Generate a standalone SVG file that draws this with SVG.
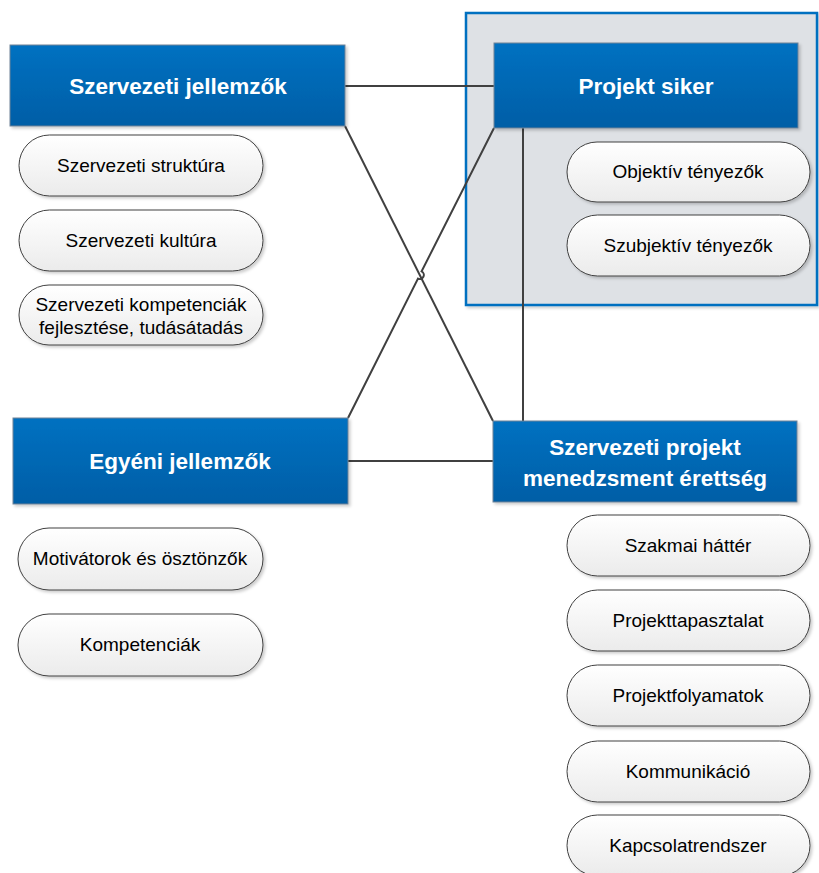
<svg xmlns="http://www.w3.org/2000/svg" width="819" height="873" viewBox="0 0 819 873">
  <defs>
    <linearGradient id="gBox" x1="0" y1="0" x2="0" y2="1">
      <stop offset="0" stop-color="#0071C1"/>
      <stop offset="1" stop-color="#005EA6"/>
    </linearGradient>
    <linearGradient id="gPill" x1="0" y1="0" x2="0" y2="1">
      <stop offset="0" stop-color="#FFFFFF"/>
      <stop offset="1" stop-color="#EBEBEB"/>
    </linearGradient>
    <filter id="sh" x="-10%" y="-10%" width="120%" height="130%">
      <feDropShadow dx="2" dy="2" stdDeviation="1.5" flood-color="#000" flood-opacity="0.2"/>
    </filter>
  </defs>
  <style>
    .box { fill: url(#gBox); stroke: #6F8397; stroke-width: 1; filter: url(#sh); }
    .pill { fill: url(#gPill); stroke: #404040; stroke-width: 1; filter: url(#sh); }
    .title { font-family: "Liberation Sans", Arial, sans-serif; font-weight: bold; font-size: 22.5px; fill: #FFFFFF; text-anchor: middle; }
    .lbl { font-family: "Liberation Sans", Arial, sans-serif; font-size: 19px; fill: #000000; text-anchor: middle; }
    .con { fill: none; stroke: #404040; stroke-width: 2; }
  </style>

  <rect width="819" height="873" fill="#FFFFFF"/>

  <!-- Projekt siker container -->
  <g id="container">
    <rect x="466" y="13" width="351" height="292" fill="#DEE1E5" stroke="#0070C0" stroke-width="2.5" filter="url(#sh)"/>
  </g>

  <g id="connectors">
    <line class="con" x1="345" y1="86" x2="494" y2="86"/>
    <line class="con" x1="345" y1="126" x2="493" y2="421"/>
    <path class="con" d="M348,418 L418.0,278.6 A4,4 0 0 0 421.6,271.4 L494,128"/>
    <line class="con" x1="348" y1="461" x2="493" y2="461"/>
    <line class="con" x1="523" y1="128" x2="523" y2="421"/>
  </g>

  <g id="szervezeti-jellemzok">
    <rect class="box" x="10" y="45" width="335" height="81"/>
    <text class="title" x="178" y="94">Szervezeti jellemzők</text>
  </g>
  <g id="szervezeti-struktura">
    <rect class="pill" x="19" y="135" width="244" height="61" rx="30.5"/>
    <text class="lbl" x="141" y="172">Szervezeti struktúra</text>
  </g>
  <g id="szervezeti-kultura">
    <rect class="pill" x="19" y="210" width="244" height="61" rx="30.5"/>
    <text class="lbl" x="141" y="247">Szervezeti kultúra</text>
  </g>
  <g id="szervezeti-kompetenciak">
    <rect class="pill" x="19" y="285" width="244" height="60" rx="30"/>
    <text class="lbl" x="141" y="311">Szervezeti kompetenciák</text>
    <text class="lbl" x="141" y="334">fejlesztése, tudásátadás</text>
  </g>

  <g id="projekt-siker">
    <rect class="box" x="494" y="43" width="304" height="85"/>
    <text class="title" x="646" y="94">Projekt siker</text>
  </g>
  <g id="objektiv">
    <rect class="pill" x="567" y="142" width="243" height="60" rx="30"/>
    <text class="lbl" x="688" y="178">Objektív tényezők</text>
  </g>
  <g id="szubjektiv">
    <rect class="pill" x="567" y="215" width="243" height="61" rx="30.5"/>
    <text class="lbl" x="688" y="252">Szubjektív tényezők</text>
  </g>

  <g id="egyeni-jellemzok">
    <rect class="box" x="13" y="418" width="335" height="86"/>
    <text class="title" x="180" y="469">Egyéni jellemzők</text>
  </g>
  <g id="motivatorok">
    <rect class="pill" x="18" y="528" width="245" height="62" rx="31"/>
    <text class="lbl" x="140" y="565">Motivátorok és ösztönzők</text>
  </g>
  <g id="kompetenciak">
    <rect class="pill" x="18" y="614" width="245" height="62" rx="31"/>
    <text class="lbl" x="140" y="651">Kompetenciák</text>
  </g>

  <g id="spm-erettseg">
    <rect class="box" x="493" y="421" width="304" height="81"/>
    <text class="title" x="645" y="455">Szervezeti projekt</text>
    <text class="title" x="645" y="486">menedzsment érettség</text>
  </g>
  <g id="szakmai-hatter">
    <rect class="pill" x="567" y="515" width="243" height="61" rx="30.5"/>
    <text class="lbl" x="688" y="552">Szakmai háttér</text>
  </g>
  <g id="projekttapasztalat">
    <rect class="pill" x="567" y="590" width="243" height="61" rx="30.5"/>
    <text class="lbl" x="688" y="627">Projekttapasztalat</text>
  </g>
  <g id="projektfolyamatok">
    <rect class="pill" x="567" y="665" width="243" height="61" rx="30.5"/>
    <text class="lbl" x="688" y="702">Projektfolyamatok</text>
  </g>
  <g id="kommunikacio">
    <rect class="pill" x="567" y="741" width="243" height="61" rx="30.5"/>
    <text class="lbl" x="688" y="778">Kommunikáció</text>
  </g>
  <g id="kapcsolatrendszer">
    <rect class="pill" x="567" y="815" width="243" height="61" rx="30.5"/>
    <text class="lbl" x="688" y="852">Kapcsolatrendszer</text>
  </g>
</svg>
